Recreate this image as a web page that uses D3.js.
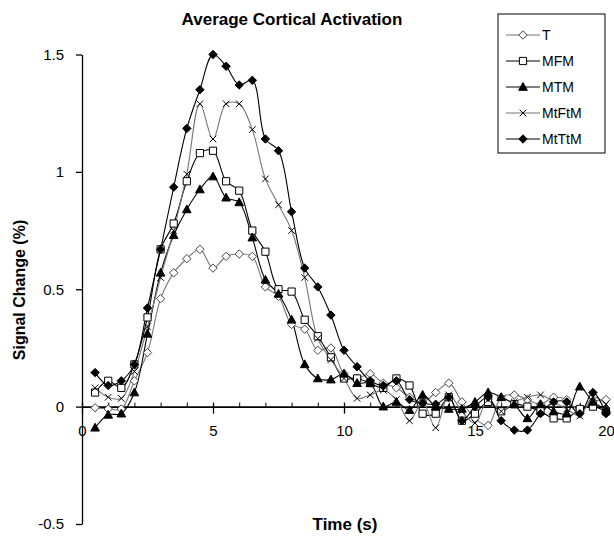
<!DOCTYPE html>
<html>
<head>
<meta charset="utf-8">
<script src="https://cdn.jsdelivr.net/npm/d3@7"></script>
<style>
  body { margin: 0; background: #fff; }
  svg { display: block; font-family: "Liberation Sans", Arial, sans-serif; }
</style>
</head>
<body>
<div id="chart"></div>
<script>
// time points (s), 0.5 s sampling
const times = d3.range(1, 41).map(i => i / 2);

const seriesNames = ["T", "MFM", "MTM", "MtFtM", "MtTtM"];

const tVals = [-0.005, -0.01, -0.01, 0.11, 0.23, 0.46, 0.57, 0.63, 0.67, 0.59,
  0.64, 0.65, 0.64, 0.51, 0.47, 0.35, 0.33, 0.24, 0.25, 0.14,
  0.12, 0.14, 0.10, 0.08, 0.04, 0.02, 0.06, 0.10, 0.02, -0.05,
  -0.08, 0.04, 0.05, 0.03, 0.01, 0.04, 0.03, -0.02, 0.02, 0.03];

const mfmVals = [0.06, 0.11, 0.08, 0.18, 0.38, 0.67, 0.78, 0.96, 1.08, 1.09,
  0.96, 0.92, 0.75, 0.66, 0.50, 0.49, 0.37, 0.30, 0.21, 0.12,
  0.12, 0.10, 0.08, 0.12, 0.09, -0.03, -0.03, 0.04, -0.06, -0.03,
  0.02, -0.02, 0.01, 0.00, -0.02, -0.05, -0.05, -0.01, 0.00, -0.02];

const mtmVals = [-0.09, -0.035, -0.03, 0.06, 0.31, 0.57, 0.73, 0.84, 0.925, 0.98,
  0.89, 0.87, 0.72, 0.54, 0.48, 0.37, 0.18, 0.12, 0.115, 0.14,
  0.10, 0.10, 0.00, 0.02, -0.015, 0.05, 0.00, -0.01, -0.01, 0.02,
  0.06, 0.04, 0.01, -0.05, 0.01, -0.02, -0.03, 0.085, 0.02, -0.01];

const mtftmVals = [0.08, 0.04, 0.035, 0.15, 0.34, 0.55, 0.75, 0.99, 1.29, 1.14,
  1.29, 1.29, 1.18, 0.97, 0.86, 0.75, 0.55, 0.29, 0.20, 0.12,
  0.035, 0.05, 0.07, 0.03, -0.06, 0.02, -0.09, 0.05, -0.02, -0.07,
  0.03, -0.02, 0.02, 0.04, 0.05, 0.02, -0.01, -0.04, 0.04, 0.01];

const mttmVals = [0.145, 0.09, 0.11, 0.18, 0.42, 0.67, 0.935, 1.185, 1.35, 1.50,
  1.45, 1.37, 1.39, 1.14, 1.09, 0.83, 0.59, 0.51, 0.39, 0.24,
  0.17, 0.11, 0.09, 0.11, 0.03, 0.015, 0.01, 0.04, -0.06, 0.00,
  0.04, -0.06, -0.10, -0.10, -0.03, 0.02, 0.02, -0.03, 0.06, -0.03];

const yTicks = [-0.5, 0, 0.5, 1, 1.5];
const xTicks = [0, 5, 10, 15, 20];

const allVals = [tVals, mfmVals, mtmVals, mtftmVals, mttmVals];
const lineColors = ["#777", "#000", "#000", "#777", "#000"];
const markerTypes = ["odiamond", "osquare", "triangle", "x", "diamond"];

const width = 614, height = 537;

const svg = d3.select("#chart").append("svg")
  .attr("width", width)
  .attr("height", height);

const x = d3.scaleLinear().domain([0, 20]).range([82, 606]);
const y = d3.scaleLinear().domain([-0.5, 1.5]).range([524, 54.5]);

// y axis
const yAxis = svg.append("g")
  .attr("transform", `translate(${x(0)},0)`)
  .call(d3.axisLeft(y).tickValues(yTicks).tickSize(6).tickSizeOuter(0).tickPadding(12)
    .tickFormat(d => String(d)));
yAxis.select(".domain").attr("stroke", "#000").attr("stroke-width", 1.3);
yAxis.selectAll(".tick line").attr("stroke", "#000").attr("stroke-width", 1.3);
yAxis.selectAll("text").style("font-size", "15px").attr("fill", "#000");

// x axis at y = 0
const xAxis = svg.append("g")
  .attr("transform", `translate(0,${y(0)})`)
  .call(d3.axisBottom(x).tickValues(xTicks).tickSize(7).tickSizeOuter(0).tickPadding(12)
    .tickFormat(d => String(d)));
xAxis.select(".domain").attr("stroke", "#000").attr("stroke-width", 1.6);
xAxis.selectAll(".tick line").attr("y1", -4).attr("stroke", "#000").attr("stroke-width", 1.3);
xAxis.selectAll("text").style("font-size", "15px").attr("fill", "#000");

// minor ticks
svg.append("g")
  .attr("transform", `translate(0,${y(0)})`)
  .call(d3.axisBottom(x).tickValues(d3.range(1, 20).filter(d => d % 5 !== 0))
    .tickSize(-4).tickSizeOuter(0).tickFormat(""))
  .call(g => g.select(".domain").remove())
  .selectAll(".tick line").attr("stroke", "#000").attr("stroke-width", 1);

function markerPath(type) {
  const s = 4.2;
  switch (type) {
    case "odiamond":
    case "diamond":
      return `M0,${-s}L${s},0L0,${s}L${-s},0Z`;
    case "osquare":
      return `M${-3.6},${-3.6}H3.6V3.6H-3.6Z`;
    case "triangle":
      return `M0,-4.5L4.3,3.3H-4.3Z`;
    case "x":
      return `M-3.3,-3.3L3.3,3.3M-3.3,3.3L3.3,-3.3`;
  }
}

const line = d3.line()
  .x((d, i) => x(times[i]))
  .y(d => y(d))
  .curve(d3.curveCatmullRom.alpha(0.5));

allVals.forEach((vals, k) => {
  svg.append("path")
    .datum(vals)
    .attr("fill", "none")
    .attr("stroke", lineColors[k])
    .attr("stroke-width", 1.1)
    .attr("d", line);
});

allVals.forEach((vals, k) => {
  const type = markerTypes[k];
  svg.append("g").selectAll("path")
    .data(vals)
    .enter().append("path")
    .attr("transform", (d, i) => `translate(${x(times[i])},${y(d)})`)
    .attr("d", markerPath(type))
    .attr("fill", type === "odiamond" || type === "osquare" ? "#fff" : (type === "x" ? "none" : "#000"))
    .attr("stroke", type === "odiamond" ? "#444" : "#000")
    .attr("stroke-width", 1);
});

// title and axis labels
svg.append("text")
  .attr("x", 292).attr("y", 25)
  .attr("text-anchor", "middle")
  .style("font-size", "17px").style("font-weight", "bold")
  .text("Average Cortical Activation");

svg.append("text")
  .attr("x", 345).attr("y", 530)
  .attr("text-anchor", "middle")
  .style("font-size", "17px").style("font-weight", "bold")
  .text("Time (s)");

svg.append("text")
  .attr("transform", "translate(25,290) rotate(-90)")
  .attr("text-anchor", "middle")
  .style("font-size", "16px").style("font-weight", "bold")
  .text("Signal Change (%)");

// legend
const legend = svg.append("g").attr("transform", "translate(498,14)");
legend.append("rect")
  .attr("width", 107).attr("height", 139)
  .attr("fill", "#fff").attr("stroke", "#000").attr("stroke-width", 1);

seriesNames.forEach((name, k) => {
  const gy = 21 + k * 26;
  const row = legend.append("g").attr("transform", `translate(0,${gy})`);
  row.append("line")
    .attr("x1", 8).attr("x2", 42)
    .attr("stroke", lineColors[k]).attr("stroke-width", 1.1);
  const type = markerTypes[k];
  row.append("path")
    .attr("transform", "translate(25,0)")
    .attr("d", markerPath(type))
    .attr("fill", type === "odiamond" || type === "osquare" ? "#fff" : (type === "x" ? "none" : "#000"))
    .attr("stroke", type === "odiamond" ? "#444" : "#000")
    .attr("stroke-width", 1);
  row.append("text")
    .attr("x", 44).attr("y", 5)
    .style("font-size", "14px")
    .text(name);
});
</script>
</body>
</html>
